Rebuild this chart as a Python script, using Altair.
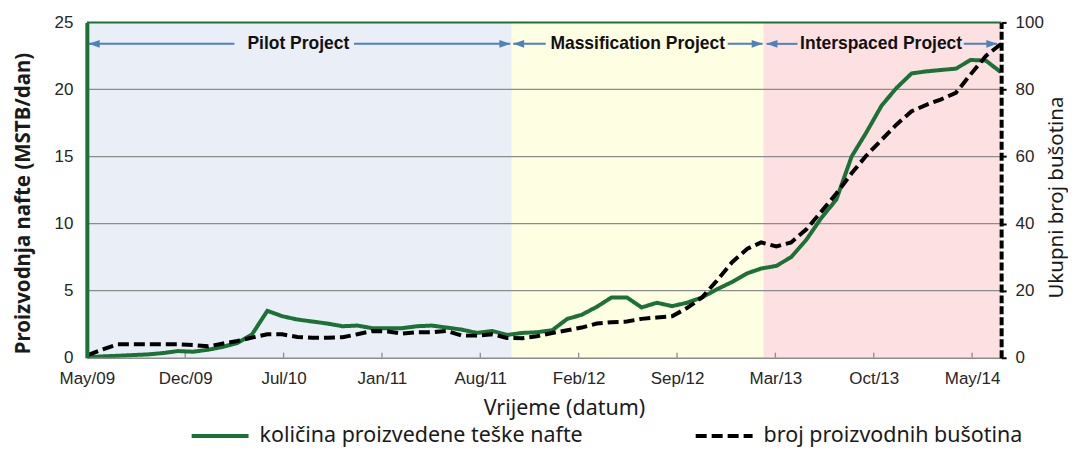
import altair as alt
import pandas as pd

# ---------------- data ----------------
months = [
    "2009-06-01", "2009-07-01", "2009-08-01", "2009-09-01", "2009-10-01", "2009-11-01", "2009-12-01",
    "2010-01-01", "2010-02-01", "2010-03-01", "2010-04-01", "2010-05-01", "2010-06-01",
    "2010-07-01", "2010-08-01", "2010-09-01", "2010-10-01", "2010-11-01", "2010-12-01",
    "2011-01-01", "2011-02-01", "2011-03-01", "2011-04-01", "2011-05-01", "2011-06-01",
    "2011-07-01", "2011-08-01", "2011-09-01", "2011-10-01", "2011-11-01", "2011-12-01",
    "2012-01-01", "2012-02-01", "2012-03-01", "2012-04-01", "2012-05-01", "2012-06-01",
    "2012-07-01", "2012-08-01", "2012-09-01", "2012-10-01", "2012-11-01", "2012-12-01",
    "2013-01-01", "2013-02-01", "2013-03-01", "2013-04-01", "2013-05-01", "2013-06-01",
    "2013-07-01", "2013-08-01", "2013-09-01", "2013-10-01", "2013-11-01", "2013-12-01",
    "2014-01-01", "2014-02-01", "2014-03-01", "2014-04-01", "2014-05-01", "2014-06-01",
    "2014-07-01",
]
oil = [
    0.05, 0.1, 0.15, 0.2, 0.25, 0.35, 0.5,
    0.45, 0.6, 0.8, 1.1, 1.75, 3.5,
    3.1, 2.85, 2.7, 2.55, 2.35, 2.4,
    2.2, 2.2, 2.2, 2.35, 2.4, 2.25,
    2.1, 1.85, 2.0, 1.7, 1.85, 1.9,
    2.05, 2.9, 3.2, 3.8, 4.5, 4.5,
    3.75, 4.1, 3.85, 4.1, 4.5, 5.1,
    5.65, 6.3, 6.65, 6.85, 7.5, 8.8,
    10.4, 11.8, 15.0, 16.8, 18.8, 20.1,
    21.2, 21.35, 21.45, 21.55, 22.2, 22.15,
    21.3,
]
wells = [
    0.8, 2.5, 4.0, 4.0, 4.0, 4.0, 4.0,
    3.8, 3.4, 4.2, 5.0, 6.0, 7.0,
    7.0, 6.2, 6.0, 6.0, 6.1, 7.0,
    8.0, 7.8, 7.2, 7.6, 7.6, 8.0,
    6.6, 6.6, 7.0, 5.9, 5.8, 6.4,
    7.4, 8.2, 9.0, 10.2, 10.6, 10.8,
    11.6, 12.0, 12.4, 14.8, 18.0, 23.0,
    28.5, 32.5, 34.4, 33.2, 34.4, 38.3,
    43.5, 49.0, 55.0, 60.3, 65.0, 69.5,
    73.5, 75.5, 77.0, 79.0, 84.5, 90.0,
    93.5,
]
series_names = ["količina proizvedene teške nafte", "broj proizvodnih bušotina"]

tick_dates = ["2009-05-30", "2009-12-16", "2010-07-04", "2011-01-20", "2011-08-08",
              "2012-02-24", "2012-09-11", "2013-03-30", "2013-10-16", "2014-05-04"]
x_range = ["2009-05-30", "2014-07-02"]
left_ticks = [0, 5, 10, 15, 20, 25]
right_ticks = [0, 20, 40, 60, 80, 100]
gridlines = [5, 10, 15, 20]
top_line = [25]

phase_names = ["Pilot Project", "Massification Project", "Interspaced Project"]
phase_start = ["2009-05-30", "2011-10-11", "2013-03-06"]
phase_end = ["2011-10-11", "2013-03-06", "2014-07-02"]
phase_fill = ["#E9EEF7", "#FEFEE3", "#FDE1E2"]
label_center = ["2010-08-03", "2012-06-23", "2013-10-31"]
arrow_level = 23.4
seg_from = ["2009-06-03", "2010-11-24", "2011-10-14", "2012-12-23", "2013-03-12", "2014-04-17"]
seg_to = ["2010-03-26", "2011-10-08", "2011-12-19", "2013-03-04", "2013-05-14", "2014-06-24"]
head_left = ["2009-06-14", "2011-10-25", "2013-03-23"]
head_right = ["2011-09-27", "2013-02-21", "2014-06-13"]

# ---------------- styles ----------------
GREEN = "#1c7236"
BLUE = "#4F81BD"
GRID = "#8c8c8c"
TXT = "#262626"


def dt(s):
    y, m, d = (int(v) for v in s.split("-"))
    return alt.DateTime(year=y, month=m, date=d, utc=True)


xs = alt.Scale(type="utc", domain=[dt(x_range[0]), dt(x_range[1])])
ys = alt.Scale(domain=[0, 25], nice=False)
yr = alt.Scale(domain=[0, 100], nice=False)

color_scale = alt.Scale(domain=series_names, range=[GREEN, "#000000"])
dash_scale = alt.Scale(domain=series_names, range=[[1, 0], [11, 5]])

legend = alt.Legend(
    orient="none", legendX=103, legendY=384, direction="horizontal", title=None,
    symbolType="stroke", symbolSize=3249, symbolStrokeWidth=4,
    labelFont="Noto Sans", labelFontSize=21.5, labelColor="#1a1a1a",
    labelOffset=9, columnPadding=104, labelLimit=700,
)

x_axis = alt.Axis(
    values=[dt(t) for t in tick_dates],
    labelExpr="utcFormat(datum.value, '%b/%y')",
    title="Vrijeme (datum)", ticks=False, labelPadding=13,
    domainColor=GRID, domainWidth=1.5, grid=False,
    labelFont="Liberation Sans", labelFontSize=17, labelColor=TXT,
    labelFlush=False, labelOverlap=False,
    titleFont="Noto Sans", titleFontSize=21.5, titleFontWeight="normal",
    titleColor="#1a1a1a", titleX=478, titleY=40, titleBaseline="top",
    zindex=1,
)
left_axis = alt.Axis(
    values=left_ticks, title="Proizvodnja nafte (MSTB/dan)",
    titleFont="Noto Sans", titleFontWeight="bold", titleFontSize=20.5,
    titleColor="#1a1a1a", titleAngle=270, titleX=-63, titleY=181,
    titleBaseline="middle", titleAlign="center",
    ticks=False, labelPadding=14,
    domainColor=GREEN, domainWidth=4, grid=False,
    labelFont="Liberation Sans", labelFontSize=17, labelColor=TXT,
    labelFlush=False, zindex=1,
)
right_axis = alt.Axis(
    orient="right", values=right_ticks, title="Ukupni broj bušotina",
    titleFont="Noto Sans", titleFontWeight="normal", titleFontSize=20.5,
    titleColor="#1a1a1a", titleAngle=270, titleX=55, titleY=175,
    titleBaseline="middle", titleAlign="center",
    ticks=True, tickColor="#000000", tickWidth=2, tickSize=5, labelPadding=9,
    domainColor="#000000", domainWidth=4, domainDash=[8, 3], grid=False,
    labelFont="Liberation Sans", labelFontSize=17, labelColor=TXT,
    labelFlush=False, zindex=1,
)

# ---------------- frames ----------------
df_green = pd.DataFrame({"date": months, "oil": oil, "series": series_names[0]})
df_black = pd.DataFrame({"date": months, "wells": wells, "series": series_names[1]})
df_phase = pd.DataFrame({"start": phase_start, "end": phase_end, "fill": phase_fill,
                         "name": phase_names, "center": label_center,
                         "level": [arrow_level] * 3})
df_grid = pd.DataFrame({"g": gridlines})
df_top = pd.DataFrame({"g": top_line})
df_ticks = pd.DataFrame({"t": tick_dates, "y0": [0.0] * len(tick_dates),
                         "y1": [0.38] * len(tick_dates)})
df_seg = pd.DataFrame({"a": seg_from, "b": seg_to, "level": [arrow_level] * len(seg_from)})
df_heads = pd.DataFrame({
    "x": head_left + head_right,
    "level": [arrow_level] * 6,
    "shape": ["M-1,0L1,-0.7L1,0.7Z"] * 3 + ["M1,0L-1,-0.7L-1,0.7Z"] * 3,
})


def X(field):
    return alt.X(field, scale=xs, axis=x_axis)


def Y(field):
    return alt.Y(field, scale=ys, axis=left_axis)


rects = alt.Chart(df_phase).mark_rect(opacity=1).encode(
    x=X("start:T"), x2="end:T",
    fill=alt.Fill("fill:N", scale=None),
)
grid = alt.Chart(df_grid).mark_rule(color=GRID, strokeWidth=1.3).encode(y=Y("g:Q"))
ticks = alt.Chart(df_ticks).mark_rule(color=GRID, strokeWidth=1.3).encode(
    x=X("t:T"), y=Y("y0:Q"), y2="y1:Q",
)
top = alt.Chart(df_top).mark_rule(color=GREEN, strokeWidth=2).encode(y=Y("g:Q"))
segs = alt.Chart(df_seg).mark_rule(color=BLUE, strokeWidth=2).encode(
    x=X("a:T"), x2="b:T", y=Y("level:Q"),
)
heads = alt.Chart(df_heads).mark_point(filled=True, opacity=1, size=121, color=BLUE,
                                        strokeWidth=0).encode(
    x=X("x:T"), y=Y("level:Q"),
    shape=alt.Shape("shape:N", scale=None),
)
labels = alt.Chart(df_phase).mark_text(
    font="Liberation Sans", fontWeight="bold", fontSize=17.5, color="#111111",
    align="center", baseline="middle",
).encode(x=X("center:T"), y=Y("level:Q"), text="name:N")

green_line = alt.Chart(df_green).mark_line(strokeWidth=4).encode(
    x=X("date:T"), y=Y("oil:Q"),
    color=alt.Color("series:N", scale=color_scale, legend=legend),
    strokeDash=alt.StrokeDash("series:N", scale=dash_scale, legend=legend),
)
black_line = alt.Chart(df_black).mark_line(strokeWidth=4).encode(
    x=X("date:T"),
    y=alt.Y("wells:Q", scale=yr, axis=right_axis),
    color=alt.Color("series:N", scale=color_scale, legend=legend),
    strokeDash=alt.StrokeDash("series:N", scale=dash_scale, legend=legend),
)

left_layer = alt.layer(rects, grid, ticks, top, segs, heads, labels, green_line)

chart = alt.layer(left_layer, black_line).resolve_scale(y="independent").properties(
    width=916,
    height=336,
    padding={"left": 79, "top": 14, "right": 67, "bottom": 95},
    autosize=alt.AutoSizeParams(type="none"),
    background="white",
).configure_view(stroke=None)

chart.save("out.html", embed_options={"renderer": "svg", "actions": False})
